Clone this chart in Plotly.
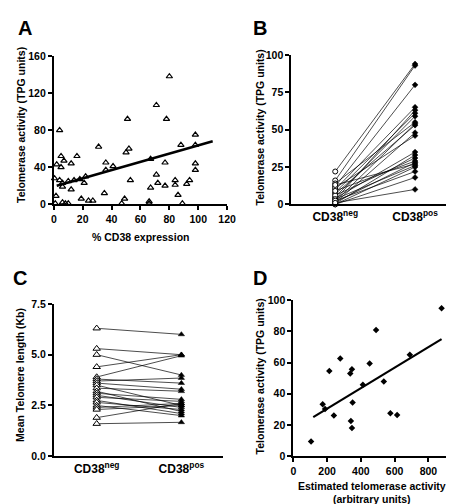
import plotly.graph_objects as go

# ---------------- Data ----------------
# Panel A: % CD38 expression vs telomerase activity
a_cd38 = [0.5, 1, 1.5, 2, 4, 4, 5, 5, 6, 6, 6, 7, 8, 10, 10, 12, 12, 14, 16, 18, 19, 21, 22, 24, 27,
          31, 35, 36, 36, 41, 47, 49, 50, 51, 52, 53, 66, 66, 67, 67, 71, 71, 72, 78, 77, 77, 80, 84,
          84, 86, 88, 89, 92, 94, 98, 98, 98, 98]
a_tel = [28, 1, 9, 43, 80, 26, 52, 40, 23, 19, 2, 47, 1, 1, 25, 44, 16, 26, 52, 27, 6, 23, 30, 4, 4,
         62, 12, 37, 45, 41, 1, 6, 56, 92, 60, 26, 3, 1, 18, 49, 107, 32, 23, 92, 45, 20, 138, 26,
         21, 10, 64, 1, 22, 26, 75, 64, 44, 37]
a_fit_x = [2, 110]
a_fit_y = [20, 68]

# Panel B: telomerase activity, paired CD38neg / CD38pos
b_neg = [22, 16, 12, 10, 3, 8, 5, 14, 2, 7, 1, 11, 4, 0.5, 6, 9, 1.5, 13, 3.5, 0, 2.5, 0, 1]
b_pos = [94, 93, 80, 65, 63, 61, 59, 55, 54, 53, 48, 46, 35, 33, 31, 29, 28, 27, 26, 25, 22, 18, 10]

# Panel C: mean telomere length, paired
c_neg = [6.3, 5.3, 5.0, 4.4, 3.9, 3.8, 3.7, 3.6, 3.5, 3.35, 3.2, 3.1, 3.0, 2.9, 2.75, 2.65, 2.5, 2.4, 2.3, 1.9, 1.6]
c_pos = [6.0, 5.0, 4.0, 5.0, 4.95, 3.6, 3.85, 3.3, 2.5, 3.2, 2.2, 2.8, 2.4, 2.7, 2.1, 2.3, 2.0, 2.6, 2.5, 2.6, 1.67]

categories = ["CD38<sup>neg</sup>", "CD38<sup>pos</sup>"]

# Panel D: estimated vs measured telomerase activity
d_est = [878, 490, 278, 213, 337, 347, 452, 690, 536, 174, 188, 240, 351, 341, 347, 412, 575, 615, 105]
d_tel = [94.7, 80.8, 62.5, 54.6, 53, 55.6, 59.4, 65, 47.9, 33.3, 30.2, 26, 34.4, 22.5, 18.1, 45.8, 27.5, 26.4, 9.4]
d_fit_x = [118, 878]
d_fit_y = [25, 75]

# ---------------- Figure ----------------
W, H = 454, 504
FONT = "Liberation Sans, Arial, sans-serif"


def px_x(p):
    return p / W


def px_y(p):
    return 1 - p / H


fig = go.Figure()

# Panel A
fig.add_trace(go.Scatter(x=a_cd38, y=a_tel, mode="markers", xaxis="x", yaxis="y",
                         marker=dict(symbol="triangle-up-open", size=5.5, color="black",
                                     line=dict(width=1.2, color="black")),
                         showlegend=False, cliponaxis=False))
fig.add_trace(go.Scatter(x=a_fit_x, y=a_fit_y, mode="lines", xaxis="x", yaxis="y",
                         line=dict(color="black", width=2.5), showlegend=False))

# Panel B
bx, by = [], []
for n, p in zip(b_neg, b_pos):
    bx += [0, 1, None]
    by += [n, p, None]
fig.add_trace(go.Scatter(x=bx, y=by, mode="lines", xaxis="x2", yaxis="y2",
                         line=dict(color="black", width=0.7), showlegend=False))
fig.add_trace(go.Scatter(x=[0] * len(b_neg), y=b_neg, mode="markers", xaxis="x2", yaxis="y2",
                         marker=dict(symbol="circle", size=5, color="white",
                                     line=dict(width=1, color="black")),
                         showlegend=False, cliponaxis=False))
fig.add_trace(go.Scatter(x=[1] * len(b_pos), y=b_pos, mode="markers", xaxis="x2", yaxis="y2",
                         marker=dict(symbol="diamond", size=4.5, color="black",
                                     line=dict(width=0.5, color="black")),
                         showlegend=False, cliponaxis=False))

# Panel C
cx, cy = [], []
for n, p in zip(c_neg, c_pos):
    cx += [0, 1, None]
    cy += [n, p, None]
fig.add_trace(go.Scatter(x=cx, y=cy, mode="lines", xaxis="x3", yaxis="y3",
                         line=dict(color="black", width=0.7), showlegend=False))
fig.add_trace(go.Scatter(x=[0] * len(c_neg), y=c_neg, mode="markers", xaxis="x3", yaxis="y3",
                         marker=dict(symbol="triangle-up", size=6.5, color="white",
                                     line=dict(width=1, color="black")),
                         showlegend=False, cliponaxis=False))
fig.add_trace(go.Scatter(x=[1] * len(c_pos), y=c_pos, mode="markers", xaxis="x3", yaxis="y3",
                         marker=dict(symbol="triangle-up", size=5.5, color="black",
                                     line=dict(width=0.5, color="black")),
                         showlegend=False, cliponaxis=False))

# Panel D
fig.add_trace(go.Scatter(x=d_est, y=d_tel, mode="markers", xaxis="x4", yaxis="y4",
                         marker=dict(symbol="diamond", size=5, color="black"),
                         showlegend=False, cliponaxis=False))
fig.add_trace(go.Scatter(x=d_fit_x, y=d_fit_y, mode="lines", xaxis="x4", yaxis="y4",
                         line=dict(color="black", width=2.2), showlegend=False))

tickfont = dict(family=FONT, size=10.5, color="black", weight="bold")
catfont = dict(family=FONT, size=12, color="black", weight="bold")
axbase = dict(showline=True, linewidth=2, linecolor="black", showgrid=False, zeroline=False,
              ticks="outside", ticklen=4, tickwidth=1.5, tickcolor="black", tickfont=tickfont)

fig.update_layout(
    width=W, height=H, margin=dict(l=0, r=0, t=0, b=0),
    paper_bgcolor="white", plot_bgcolor="white",
    font=dict(family=FONT, color="black"),
    xaxis=dict(axbase, domain=[px_x(44), px_x(222)], range=[0, 120], tickvals=[0, 20, 40, 60, 80, 100, 120],
               anchor="y"),
    yaxis=dict(axbase, domain=[px_y(195), px_y(43)], range=[0, 160], tickvals=[0, 40, 80, 120, 160],
               anchor="x"),
    xaxis2=dict(axbase, domain=[px_x(288), px_x(453)], range=[-0.549, 1.463], tickvals=[0, 1],
                ticktext=categories, ticks="", anchor="y2", tickfont=catfont),
    yaxis2=dict(axbase, domain=[px_y(195), px_y(42)], range=[0, 100], tickvals=[0, 25, 50, 75, 100],
                anchor="x2"),
    xaxis3=dict(axbase, domain=[px_x(44), px_x(218)], range=[-0.506, 1.494], tickvals=[0, 1],
                ticktext=categories, ticks="", anchor="y3", tickfont=catfont),
    yaxis3=dict(axbase, domain=[px_y(453), px_y(297)], range=[0, 7.5], tickvals=[0, 2.5, 5, 7.5],
                tickformat=".1f", anchor="x3"),
    xaxis4=dict(axbase, domain=[px_x(290), px_x(453)], range=[0, 940], tickvals=[0, 200, 400, 600, 800],
                anchor="y4"),
    yaxis4=dict(axbase, domain=[px_y(453), px_y(293)], range=[0, 100], tickvals=[0, 20, 40, 60, 80, 100],
                anchor="x4"),
)

titlefont = dict(family=FONT, size=10.5, color="black")
letterfont = dict(family=FONT, size=20, color="black")
ann = []


def txt(x, y, text, font, angle=0):
    ann.append(dict(x=px_x(x), y=px_y(y), xref="paper", yref="paper", text=text, showarrow=False,
                    font=font, textangle=angle, xanchor="center", yanchor="middle"))


txt(14, 14, "<b>A</b>", letterfont)
txt(256, 14, "<b>B</b>", letterfont)
txt(9, 270, "<b>C</b>", letterfont)
txt(256, 270, "<b>D</b>", letterfont)

txt(11, 114, "<b>Telomerase activity (TPG units)</b>", titlefont, -90)
txt(133, 228, "<b>% CD38 expression</b>", titlefont)
txt(256, 116, "<b>Telomerase activity (TPG units)</b>", titlefont, -90)
txt(9, 370, "<b>Mean Telomere length (Kb)</b>", titlefont, -90)
txt(256, 371, "<b>Telomerase activity (TPG units)</b>", titlefont, -90)
txt(371, 484, "<b>Estimated telomerase activity</b>", titlefont)
txt(371, 497, "<b>(arbitrary units)</b>", titlefont)

fig.update_layout(annotations=ann)

fig.write_html("out.html")
